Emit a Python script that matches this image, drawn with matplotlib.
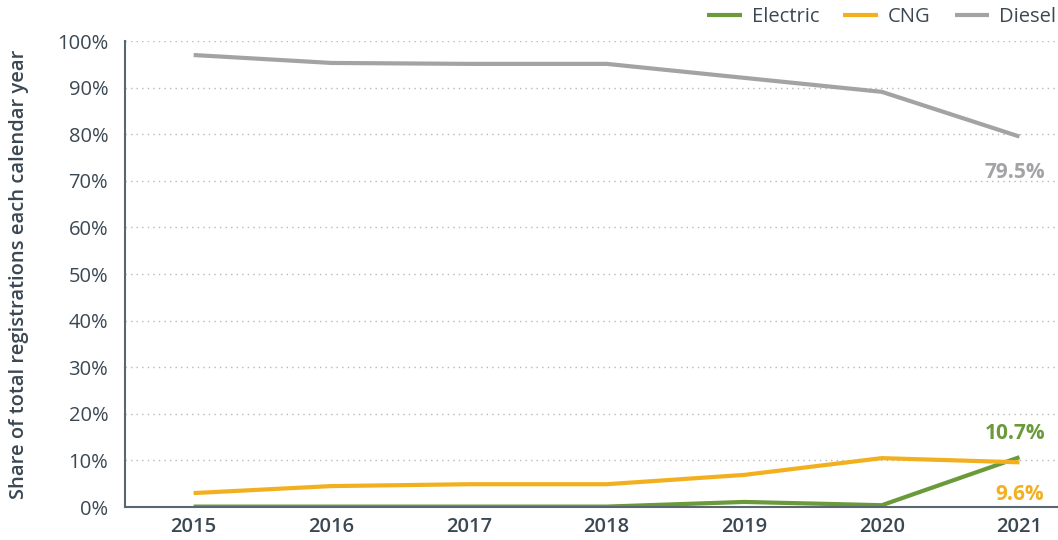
import matplotlib
matplotlib.use("Agg")
import matplotlib.pyplot as plt
from matplotlib.ticker import FuncFormatter

plt.rcParams['font.family'] = ['Open Sans', 'DejaVu Sans']

# Data
years = [2015, 2016, 2017, 2018, 2019, 2020, 2021]
electric = [0.1, 0.1, 0.1, 0.1, 1.1, 0.4, 10.7]
cng = [3.0, 4.5, 4.9, 4.9, 6.9, 10.5, 9.6]
diesel = [97.0, 95.3, 95.1, 95.1, 92.1, 89.1, 79.5]
yticks = list(range(0, 101, 10))

c_el = '#6a9a3a'
c_cng = '#f2b01e'
c_die = '#a3a3a6'
c_txt = '#3b4853'

fig = plt.figure(figsize=(10.58, 5.40), dpi=100)
ax = fig.add_axes([0.118, 0.061, 0.882, 0.863])

ax.plot(years, electric, color=c_el, lw=3, label='Electric', solid_capstyle='butt')
ax.plot(years, cng, color=c_cng, lw=3, label='CNG', solid_capstyle='butt')
ax.plot(years, diesel, color=c_die, lw=3, label='Diesel', solid_capstyle='butt')

ax.set_xlim(2014.5, 2021.28)
ax.set_ylim(0, 100)
ax.set_yticks(yticks)
ax.yaxis.set_major_formatter(FuncFormatter(lambda v, p: f"{v:.0f}%"))
ax.set_xticks(years)
ax.tick_params(length=0, colors=c_txt, labelsize=14.5)
ax.tick_params(axis='y', pad=12)
ax.tick_params(axis='x', pad=7)
for lab in ax.get_xticklabels():
    lab.set_fontweight('semibold')

ax.grid(axis='y', linestyle=(0, (1, 3)), color='#b8b8b8', lw=1)
ax.set_axisbelow(True)
for s in ['top', 'right']:
    ax.spines[s].set_visible(False)
for s in ['left', 'bottom']:
    ax.spines[s].set_color('#5a6670')
    ax.spines[s].set_linewidth(1.5)

ax.set_ylabel('Share of total registrations each calendar year', fontsize=14.5,
              fontweight='semibold', color=c_txt)
ax.yaxis.set_label_coords(-0.103, 0.5)

# end labels
ax.annotate(f"{diesel[-1]}%", (years[-1], diesel[-1]), xytext=(-3, -30),
            textcoords='offset points', ha='center', fontsize=15, fontweight='bold', color=c_die)
ax.annotate(f"{electric[-1]}%", (years[-1], electric[-1]), xytext=(-3, 13),
            textcoords='offset points', ha='center', fontsize=15, fontweight='bold', color=c_el)
ax.annotate(f"{cng[-1]}%", (years[-1], cng[-1]), xytext=(0, -27),
            textcoords='offset points', ha='center', fontsize=15, fontweight='bold', color=c_cng)

leg = ax.legend(loc='lower right', bbox_to_anchor=(1.0, 1.025), ncol=3, frameon=False,
                fontsize=14.5, handlelength=1.7, columnspacing=1.2, handletextpad=0.5,
                borderaxespad=0.0, borderpad=0.1)
for t in leg.get_texts():
    t.set_color(c_txt)

fig.savefig('out.png', dpi=100)
